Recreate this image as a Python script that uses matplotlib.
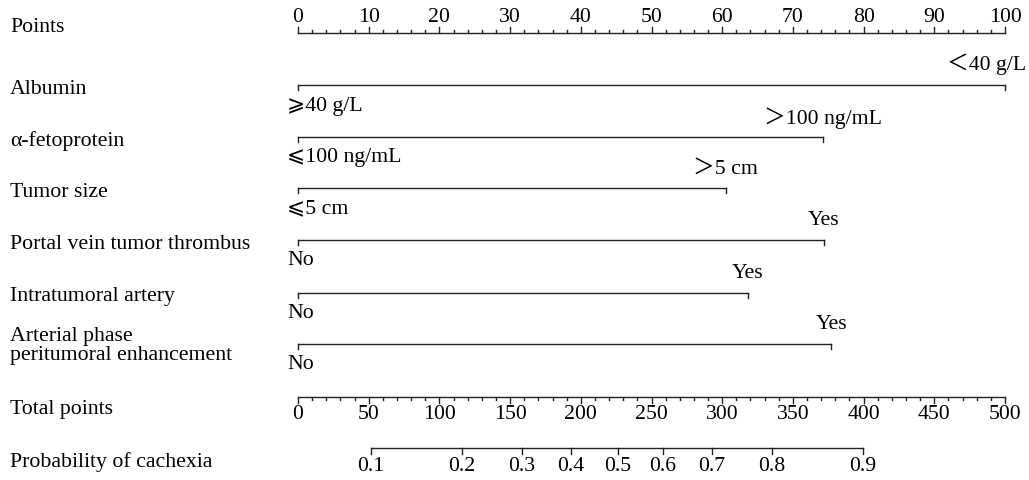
import matplotlib
matplotlib.use('Agg')
import matplotlib.pyplot as plt

plt.rcParams['font.family'] = ['Liberation Serif', 'DejaVu Serif', 'DejaVu Sans', 'Noto Sans CJK SC']

# Row names
row_names = ['Points', 'Albumin', 'α-fetoprotein', 'Tumor size',
             'Portal vein tumor thrombus', 'Intratumoral artery',
             'Arterial phase\nperitumoral enhancement',
             'Total points', 'Probability of cachexia']

# Predictor rows: (low label, high label, points of high level)
predictors = ['Albumin', 'α-fetoprotein', 'Tumor size',
              'Portal vein tumor thrombus', 'Intratumoral artery',
              'Arterial phase peritumoral enhancement']
low_labels = ['⩾40 g/L', '⩽100 ng/mL', '⩽5 cm', 'No', 'No', 'No']
high_labels = ['＜40 g/L', '＞100 ng/mL', '＞5 cm', 'Yes', 'Yes', 'Yes']
high_points = [100, 74.3, 60.5, 74.4, 63.6, 75.4]

# Total points scale and probability mapping
total_ticks = [0, 50, 100, 150, 200, 250, 300, 350, 400, 450, 500]
prob_labels = ['0.1', '0.2', '0.3', '0.4', '0.5', '0.6', '0.7', '0.8', '0.9']
prob_total = [51.3, 115.8, 158.4, 193.1, 226.0, 258.0, 292.8, 335.2, 399.4]

# layout (pixel rows, y grows downward)
row_y = [34, 86, 138, 189, 241, 294, 345, 398, 449]
label_y = [28, 90, 141, 193, 245, 297, 346, 410, 462]
W, H = 1029, 481
x0_px, px_per_pt = 298, 7.07

fig = plt.figure(figsize=(W / 100, H / 100), dpi=100)
ax = fig.add_axes([0, 0, 1, 1])
ax.set_xlim(-x0_px / px_per_pt, (W - x0_px) / px_per_pt)
ax.set_ylim(H, 0)
ax.axis('off')

fs = 15.7
lw = 1.0
col = '#222222'
pt = 1 / px_per_pt  # one pixel in point units

# left-hand labels
for name, y in zip(row_names, label_y):
    ax.text(-x0_px / px_per_pt + 10 * pt, y, name, fontsize=fs, va='center', ha='left',
            color='black', linespacing=0.95)

# Points axis
y = row_y[0]
ax.plot([0, 100], [y, y], color=col, lw=lw)
for v in range(0, 101, 2):
    ln = 6 if v % 10 == 0 else 3
    ax.plot([v, v], [y, y - ln], color=col, lw=lw)
for v in range(0, 101, 10):
    ax.text(v, y - 17, str(v), fontsize=fs, ha='center', va='center')

# predictor rows
for i, (lo, hi, hp) in enumerate(zip(low_labels, high_labels, high_points)):
    y = row_y[i + 1]
    ax.plot([0, hp], [y, y], color=col, lw=lw)
    ax.plot([0, 0], [y, y + 5], color=col, lw=lw)
    ax.plot([hp, hp], [y, y + 5], color=col, lw=lw)
    ax.text(-11 * pt, y + 20, lo, fontsize=fs, ha='left', va='center')
    if hp >= 99:
        ax.text(hp + 21 * pt, y - 22, hi, fontsize=fs, ha='right', va='center')
    else:
        ax.text(hp, y - 20, hi, fontsize=fs, ha='center', va='center')

# Total points axis (0-500 mapped to 0-100 points)
y = row_y[7]
ax.plot([0, 100], [y, y], color=col, lw=lw)
for v in range(0, 501, 10):
    ln = 6 if v % 50 == 0 else 3
    ax.plot([v / 5, v / 5], [y, y + ln], color=col, lw=lw)
for v in total_ticks:
    ax.text(v / 5, y + 17, str(v), fontsize=fs, ha='center', va='center')

# Probability axis
y = row_y[8]
ax.plot([prob_total[0] / 5, prob_total[-1] / 5], [y, y], color=col, lw=lw)
for lab, tp in zip(prob_labels, prob_total):
    ax.plot([tp / 5, tp / 5], [y, y + 6], color=col, lw=lw)
    ax.text(tp / 5, y + 18, lab, fontsize=fs, ha='center', va='center')

fig.savefig('out.png', dpi=100, facecolor='white')
